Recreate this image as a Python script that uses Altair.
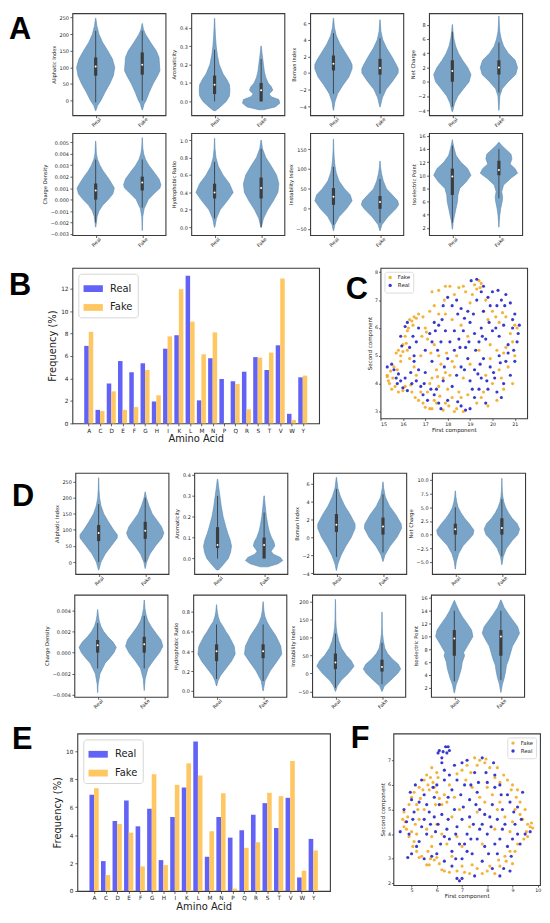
import altair as alt
import pandas as pd

TXT = "#222222"
FRAME = "#3a3a3a"
VFILL = "#7aa5c9"
VEDGE = "#5b8ab3"
INNER = "#3c3c3c"
BLUE_BAR = "#6262f6"
ORANGE_BAR = "#ffc762"
BLUE_PT = "#2222c8"
ORANGE_PT = "#f4aa22"
FONT = "DejaVu Sans"
LFONT = "Liberation Sans"

# ---------------- violin profiles: (value, half-width in category units) ----------------
# box stats: [whisker low, Q1, median, Q3, whisker high]
A1_real = [(-30,0.005),(-15,0.04),(0,0.11),(25,0.2),(50,0.3),(75,0.38),(100,0.41),(125,0.36),(150,0.26),(175,0.15),(200,0.07),(225,0.025),(248,0.003)]
A1_fake = [(-28,0.005),(-10,0.04),(0,0.08),(25,0.15),(50,0.23),(75,0.33),(90,0.38),(110,0.37),(130,0.36),(150,0.3),(175,0.18),(200,0.07),(215,0.025),(232,0.003)]
A1_real_box = [-5, 75, 103, 130, 210]
A1_fake_box = [0, 78, 108, 145, 210]

A2_real = [(-0.05,0.02),(-0.03,0.12),(0.0,0.25),(0.03,0.32),(0.06,0.33),(0.09,0.32),(0.12,0.26),(0.15,0.18),(0.2,0.1),(0.25,0.06),(0.3,0.035),(0.35,0.02),(0.4,0.01),(0.45,0.003)]
A2_fake = [(-0.045,0.05),(-0.03,0.3),(-0.01,0.4),(0.01,0.38),(0.025,0.22),(0.04,0.17),(0.06,0.25),(0.08,0.22),(0.1,0.15),(0.13,0.1),(0.16,0.07),(0.2,0.05),(0.23,0.035),(0.26,0.02),(0.3,0.004)]
A2_real_box = [0.0, 0.04, 0.09, 0.14, 0.28]
A2_fake_box = [0.0, 0.0, 0.06, 0.1, 0.23]

A3_real = [(-4.5,0.004),(-3.5,0.03),(-2.5,0.09),(-1.5,0.2),(-0.5,0.33),(0.5,0.4),(1.0,0.4),(1.5,0.36),(2.5,0.25),(3.5,0.14),(4.5,0.06),(5.5,0.02),(6.6,0.003)]
A3_fake = [(-4.1,0.004),(-3,0.05),(-2,0.13),(-1,0.27),(0,0.39),(0.5,0.39),(1,0.35),(2,0.25),(3,0.14),(4,0.06),(5,0.02),(6.4,0.003)]
A3_real_box = [-2.5, 0.3, 1.1, 2.1, 4.8]
A3_fake_box = [-2.5, -0.2, 0.6, 1.7, 4.2]

A4_real = [(-4.2,0.004),(-3,0.05),(-2,0.12),(-1,0.24),(0,0.36),(1,0.4),(2,0.33),(3,0.22),(4,0.13),(5,0.07),(6,0.035),(7,0.015),(8,0.003)]
A4_fake = [(-4,0.003),(-2,0.02),(-1,0.07),(0,0.2),(1,0.36),(2,0.4),(3,0.35),(4,0.2),(5,0.1),(6,0.05),(7,0.02),(8,0.01),(9.2,0.002)]
A4_real_box = [-3.5, 0.0, 1.5, 3.0, 7.0]
A4_fake_box = [-1.5, 1.0, 2.0, 3.0, 5.5]

A5_real = [(-0.0024,0.003),(-0.0015,0.03),(-0.001,0.07),(-0.0005,0.15),(0.0,0.27),(0.0005,0.37),(0.001,0.4),(0.0015,0.33),(0.002,0.25),(0.0025,0.16),(0.003,0.09),(0.0035,0.04),(0.004,0.015),(0.0051,0.003)]
A5_fake = [(-0.0027,0.002),(-0.0015,0.01),(-0.0008,0.04),(0.0,0.13),(0.0005,0.25),(0.001,0.38),(0.0013,0.4),(0.0018,0.36),(0.0023,0.27),(0.003,0.14),(0.0035,0.07),(0.004,0.03),(0.0045,0.012),(0.0054,0.002)]
A5_real_box = [-0.002, 0.0, 0.0008, 0.0014, 0.0035]
A5_fake_box = [-0.0007, 0.0008, 0.0015, 0.002, 0.0035]

A6_real = [(0.0,0.005),(0.1,0.04),(0.2,0.12),(0.3,0.27),(0.4,0.4),(0.5,0.32),(0.6,0.18),(0.7,0.08),(0.8,0.03),(0.9,0.01),(1.02,0.002)]
A6_fake = [(0.0,0.005),(0.1,0.05),(0.2,0.14),(0.3,0.26),(0.4,0.36),(0.5,0.38),(0.6,0.33),(0.7,0.22),(0.8,0.1),(0.9,0.03),(1.0,0.003)]
A6_real_box = [0.1, 0.33, 0.4, 0.5, 0.75]
A6_fake_box = [0.0, 0.33, 0.45, 0.57, 0.9]

A7_real = [(-55,0.003),(-40,0.03),(-20,0.12),(0,0.28),(20,0.4),(35,0.36),(50,0.24),(70,0.12),(90,0.06),(110,0.03),(130,0.015),(150,0.007),(175,0.002)]
A7_fake = [(-55,0.003),(-40,0.04),(-20,0.17),(0,0.34),(10,0.4),(20,0.38),(35,0.26),(50,0.14),(70,0.07),(90,0.03),(105,0.012),(120,0.002)]
A7_real_box = [-40, 10, 30, 52, 105]
A7_fake_box = [-35, 0, 17, 32, 75]

A8_real = [(1.8,0.003),(3,0.02),(4,0.05),(5,0.08),(6,0.11),(7,0.12),(8,0.16),(9,0.3),(10,0.4),(11,0.33),(12,0.18),(13,0.08),(14,0.04),(15,0.01),(15.4,0.002)]
A8_fake = [(2.1,0.002),(3,0.01),(4,0.02),(5,0.04),(6,0.07),(6.7,0.08),(7.5,0.06),(8.5,0.1),(9.5,0.25),(10.3,0.4),(11,0.35),(11.7,0.24),(12.5,0.28),(13.2,0.26),(14,0.14),(14.5,0.06),(15,0.005)]
A8_real_box = [2.8, 7.0, 9.8, 11.0, 14.5]
A8_fake_box = [6.5, 10.0, 10.8, 12.2, 14.0]

D1_real = [(-25,0.003),(0,0.05),(25,0.14),(50,0.27),(75,0.4),(85,0.4),(100,0.32),(125,0.21),(150,0.11),(175,0.05),(200,0.02),(225,0.008),(262,0.002)]
D1_fake = [(-20,0.003),(0,0.03),(25,0.1),(50,0.22),(75,0.36),(90,0.4),(110,0.35),(130,0.25),(150,0.15),(175,0.08),(200,0.025),(218,0.003)]
D1_real_box = [0, 65, 90, 115, 180]
D1_fake_box = [0, 72, 97, 125, 200]

D2_real = [(-0.055,0.02),(-0.03,0.12),(0.0,0.23),(0.03,0.28),(0.06,0.3),(0.09,0.27),(0.12,0.22),(0.15,0.18),(0.2,0.12),(0.25,0.08),(0.3,0.05),(0.35,0.02),(0.38,0.004)]
D2_fake = [(-0.04,0.08),(-0.025,0.3),(-0.01,0.4),(0.005,0.35),(0.02,0.2),(0.035,0.15),(0.06,0.23),(0.08,0.21),(0.1,0.16),(0.13,0.11),(0.16,0.08),(0.2,0.05),(0.25,0.025),(0.3,0.004)]
D2_real_box = [0.0, 0.05, 0.065, 0.15, 0.3]
D2_fake_box = [0.0, 0.0, 0.065, 0.1, 0.22]

D3_real = [(-3.7,0.003),(-3,0.03),(-2,0.1),(-1,0.2),(0,0.32),(1,0.4),(1.5,0.4),(2.5,0.3),(3.5,0.18),(4.5,0.09),(5.5,0.03),(6.7,0.003)]
D3_fake = [(-2.7,0.003),(-2,0.04),(-1,0.15),(0,0.3),(1,0.4),(1.5,0.39),(2.5,0.28),(3.5,0.14),(4.5,0.05),(5.5,0.015),(6.2,0.002)]
D3_real_box = [-2.2, 0.6, 1.4, 2.6, 5.4]
D3_fake_box = [-1.7, 0.3, 1.2, 2.2, 4.8]

D4_real = [(-6.3,0.003),(-5,0.02),(-3.5,0.07),(-2,0.17),(-1,0.28),(0,0.38),(0.8,0.4),(2,0.3),(3,0.2),(4,0.12),(5,0.06),(6,0.03),(7,0.012),(8,0.003)]
D4_fake = [(-5.5,0.003),(-4,0.03),(-2.5,0.1),(-1,0.23),(0,0.34),(1,0.38),(2,0.33),(3,0.22),(4,0.14),(5,0.08),(6,0.04),(7,0.02),(8,0.01),(9,0.005),(10.3,0.002)]
D4_real_box = [-3.0, 0.0, 1.0, 2.0, 5.0]
D4_fake_box = [-4.0, 0.0, 1.2, 3.0, 6.5]

D5_real = [(-0.0038,0.002),(-0.003,0.01),(-0.002,0.05),(-0.001,0.16),(-0.0005,0.26),(0.0,0.35),(0.0005,0.4),(0.001,0.33),(0.0015,0.22),(0.002,0.13),(0.0025,0.07),(0.003,0.035),(0.0035,0.015),(0.0041,0.002)]
D5_fake = [(-0.0036,0.002),(-0.0025,0.02),(-0.0015,0.08),(-0.0008,0.19),(0.0,0.33),(0.0006,0.4),(0.0012,0.36),(0.0018,0.26),(0.0024,0.16),(0.003,0.08),(0.0036,0.04),(0.0042,0.015),(0.005,0.002)]
D5_real_box = [-0.0015, 0.0, 0.0007, 0.0012, 0.0028]
D5_fake_box = [-0.0015, 0.0, 0.0008, 0.0015, 0.0035]

D6_real = [(0.05,0.003),(0.1,0.03),(0.15,0.08),(0.2,0.16),(0.3,0.32),(0.37,0.4),(0.45,0.38),(0.55,0.27),(0.6,0.2),(0.65,0.14),(0.7,0.07),(0.75,0.035),(0.8,0.015),(0.87,0.002)]
D6_fake = [(0.0,0.003),(0.1,0.04),(0.2,0.15),(0.3,0.3),(0.37,0.4),(0.45,0.38),(0.55,0.28),(0.65,0.14),(0.7,0.08),(0.75,0.04),(0.8,0.02),(0.9,0.002)]
D6_real_box = [0.12, 0.3, 0.4, 0.47, 0.67]
D6_fake_box = [0.1, 0.33, 0.4, 0.47, 0.67]

D7_real = [(-50,0.003),(-35,0.04),(-20,0.12),(0,0.28),(20,0.4),(35,0.34),(50,0.23),(70,0.13),(90,0.07),(110,0.035),(130,0.015),(150,0.008),(205,0.002)]
D7_fake = [(-50,0.003),(-35,0.05),(-20,0.18),(0,0.34),(12,0.4),(25,0.35),(40,0.22),(55,0.12),(70,0.06),(90,0.03),(110,0.012),(130,0.006),(170,0.002)]
D7_real_box = [-40, 12, 30, 55, 110]
D7_fake_box = [-30, 5, 18, 38, 85]

D8_real = [(1.2,0.003),(2.5,0.04),(3.5,0.09),(5,0.15),(6,0.17),(7,0.22),(7.5,0.2),(8.5,0.28),(10,0.4),(11,0.37),(12,0.28),(13,0.18),(14,0.1),(15,0.04),(15.6,0.003)]
D8_fake = [(1.3,0.003),(2.5,0.03),(3.5,0.07),(4.5,0.1),(5.5,0.12),(6.5,0.17),(7.5,0.21),(8.5,0.25),(9.5,0.33),(10.5,0.4),(11.5,0.36),(12.5,0.26),(13.5,0.16),(14.5,0.07),(15.7,0.003)]
D8_real_box = [3.0, 7.0, 9.7, 11.0, 14.0]
D8_fake_box = [3.2, 7.0, 10.0, 11.0, 14.0]

# ---------------- amino acid frequencies ----------------
AMINO = ["A","C","D","E","F","G","H","I","K","L","M","N","P","Q","R","S","T","V","W","Y"]
B_real = [6.9,1.2,3.55,5.55,4.55,5.35,1.95,6.65,7.85,13.15,2.05,5.8,3.95,3.75,4.6,5.9,4.75,6.95,0.85,4.1]
B_fake = [8.15,1.1,2.85,1.2,1.45,4.75,2.5,7.75,11.95,9.05,6.15,8.1,0.0,3.5,1.25,5.85,6.3,12.9,0.3,4.25]
E_real = [6.89,2.14,5.01,6.48,4.63,5.89,2.21,5.3,7.41,10.71,2.45,5.3,3.82,4.35,5.46,6.29,4.51,6.67,0.97,3.73]
E_fake = [7.36,1.14,4.8,4.18,1.76,8.36,1.85,7.6,9.14,8.27,4.28,7.0,0.17,3.09,3.49,7.03,6.79,9.31,1.45,2.9]

# ---------------- 2-D embeddings (read approximately) ----------------
C_fake = [(15.3,4.3),(15.35,4.1),(15.4,4.0),(15.3,4.25),(15.5,3.8),(15.45,4.45),(15.6,4.6),(15.7,5.1),(15.8,5.2),(15.9,4.8),(16.0,5.4),(16.1,5.7),(16.2,5.9),(16.3,6.3),(16.4,6.25),(16.5,6.4),(16.45,6.1),(16.2,5.2),(16.3,4.9),(16.5,4.6),(16.6,4.3),(16.1,3.9),(16.0,3.75),(15.8,3.7),(16.4,3.7),(16.7,3.4),(16.9,3.3),(17.0,3.15),(17.2,3.1),(17.3,3.1),(17.5,3.3),(17.8,3.05),(18.3,3.0),(18.4,3.1),(18.2,3.5),(18.0,3.8),(17.6,3.9),(17.3,4.2),(17.5,4.5),(17.7,4.7),(17.9,4.4),(18.1,4.3),(18.3,4.6),(17.6,5.0),(17.4,5.4),(17.1,5.6),(17.0,6.0),(16.9,6.4),(16.7,6.5),(17.2,6.6),(17.4,6.8),(17.3,7.3),(17.6,7.35),(17.9,7.5),(18.1,7.5),(18.5,7.45),(18.8,7.3),(19.1,7.2),(19.4,7.7),(19.5,7.6),(19.3,7.4),(19.0,6.9),(19.6,6.6),(19.8,6.3),(20.0,6.6),(20.3,6.2),(20.6,6.4),(21.0,6.1),(21.1,6.0),(20.9,5.5),(20.5,5.1),(20.7,4.6),(20.9,4.0),(20.5,3.8),(20.2,3.4),(19.8,3.2),(19.5,3.5),(19.7,4.3),(19.9,4.9),(19.4,5.2),(19.0,4.7),(18.7,4.2),(18.5,3.7),(18.9,5.7),(18.6,6.1),(18.2,6.3),(17.9,6.5),(20.3,4.5),(21.0,5.0),(16.8,5.0),
          (15.55,4.2),(15.65,3.9),(15.75,4.5),(15.9,5.0),(16.0,5.15),(16.15,5.45),(16.25,6.0),(16.6,6.35),(16.35,3.95),(16.55,3.5),(16.8,3.7),(17.1,3.7),(17.2,4.0),(17.4,3.4),(17.65,3.55),(17.9,3.3),(18.05,3.2),(18.6,3.5),(18.7,3.0),(17.8,4.2),(17.55,4.25),(18.2,4.8),(18.4,5.0),(17.95,5.1),(17.25,5.1),(17.05,5.85),(16.85,5.7),(17.6,6.5),(17.85,7.0),(18.3,7.2),(18.7,7.5),(19.2,7.55),(19.45,7.45),(19.7,7.0),(20.15,6.4),(20.45,6.55),(20.8,5.8),(20.6,5.3),(20.2,5.2),(20.0,4.0),(19.6,3.7),(19.3,3.3),(18.9,3.6),(19.9,5.4),(20.4,4.2)]
C_real = [(15.3,4.6),(15.6,4.5),(15.7,4.2),(15.8,4.35),(15.9,4.1),(16.0,3.85),(16.2,3.75),(16.35,4.4),(16.4,4.0),(16.6,4.1),(16.8,3.9),(16.9,3.6),(17.1,3.4),(17.4,3.6),(17.7,3.1),(18.6,3.2),(18.8,3.05),(19.0,3.1),(19.2,3.5),(19.4,3.8),(19.7,3.3),(20.2,3.7),(20.5,4.0),(20.8,4.3),(21.0,4.8),(21.1,5.5),(21.2,6.1),(21.0,6.5),(20.8,6.9),(20.6,7.2),(20.4,7.0),(20.2,6.8),(20.0,7.3),(19.8,7.1),(19.5,7.3),(19.3,7.0),(19.05,7.7),(19.3,7.75),(18.9,6.6),(18.6,6.7),(18.4,7.0),(18.0,7.1),(17.6,6.1),(17.4,6.2),(17.2,5.8),(16.6,5.5),(16.5,5.0),(16.3,5.3),(15.9,5.7),(16.2,6.2),(17.0,5.2),(17.3,4.8),(17.7,5.5),(17.9,5.9),(18.1,5.5),(18.3,5.2),(18.5,5.6),(18.7,5.9),(19.0,6.2),(19.2,5.8),(19.5,6.0),(19.7,5.6),(20.0,5.9),(20.3,5.7),(20.5,6.1),(20.7,5.4),(20.3,5.0),(19.9,4.6),(19.6,4.9),(19.2,4.5),(18.9,4.9),(18.6,4.6),(18.4,4.3),(18.0,4.9),(17.8,4.1),(17.5,3.8),(18.2,3.9),(19.0,4.1),(19.5,4.2),(20.1,4.2),(20.4,3.5),(19.8,3.8),(20.6,4.8),(17.0,4.4),(16.7,6.0),(17.8,6.8),(19.6,6.6),(20.9,6.0),(18.8,5.3),(19.4,5.5),
          (15.5,4.7),(15.75,4.0),(16.1,4.2),(16.5,4.8),(16.7,4.5),(16.95,4.0),(17.25,3.8),(17.6,3.3),(18.0,3.4),(18.45,3.35),(19.1,3.8),(19.35,4.35),(19.75,4.1),(20.05,4.4),(20.35,4.75),(20.7,5.1),(20.95,5.2),(21.15,5.8),(20.9,6.3),(20.55,6.8),(20.25,7.35),(19.9,6.8),(19.6,7.5),(19.15,6.5),(18.75,6.35),(18.45,6.5),(18.2,6.8),(17.75,6.3),(17.45,5.9),(17.3,5.5),(17.55,5.2),(17.85,4.6),(18.3,5.9),(18.55,5.3),(18.95,5.5),(19.25,5.2),(19.55,5.7),(19.85,6.2),(20.15,6.0),(19.45,4.7),(18.75,4.5),(16.45,5.7),(16.1,6.05),(15.95,5.35)]
F_fake = [(4.7,4.9),(4.75,4.5),(4.8,4.2),(4.9,3.9),(5.0,4.1),(5.1,3.7),(5.2,3.3),(5.3,3.05),(5.4,3.1),(5.6,2.75),(5.7,2.75),(5.9,2.95),(6.1,2.8),(6.3,2.5),(6.5,2.45),(5.0,5.5),(5.1,5.7),(5.2,5.2),(5.3,5.9),(5.5,6.2),(5.6,6.4),(5.8,6.7),(6.0,6.5),(5.7,5.8),(5.9,5.9),(6.0,5.7),(5.5,5.0),(5.3,4.6),(5.6,4.2),(5.8,3.9),(6.0,4.4),(6.2,5.2),(6.4,5.3),(6.7,5.5),(6.9,5.0),(7.0,6.6),(7.2,6.8),(7.5,7.1),(7.7,7.0),(7.9,6.9),(8.1,6.7),(8.3,6.3),(8.5,6.1),(8.8,6.2),(9.0,6.0),(9.2,5.8),(9.3,5.3),(9.1,5.0),(9.3,4.8),(9.4,4.6),(9.6,4.4),(9.7,4.3),(9.8,4.25),(9.6,3.9),(9.2,3.6),(8.9,3.3),(8.7,3.1),(8.5,2.7),(8.3,2.4),(8.0,2.5),(7.6,2.6),(7.3,2.4),(7.0,2.7),(6.6,3.1),(6.8,3.9),(7.3,4.3),(7.6,4.9),(7.9,5.3),(8.2,5.6),(8.5,5.3),(8.7,4.7),(8.3,4.2),(7.8,3.6),(7.0,3.5),(6.4,3.6),(5.2,4.0),(4.9,5.2),(6.5,6.0),(7.4,5.9),(8.9,4.1),(9.0,2.8),(6.2,4.0),(5.8,3.5),
          (4.65,4.6),(4.7,4.3),(4.85,4.7),(5.05,3.5),(5.15,4.4),(5.25,5.0),(5.35,5.45),(5.45,5.8),(5.65,6.0),(5.75,6.3),(5.85,6.1),(6.05,6.3),(6.3,5.6),(6.1,5.45),(5.95,5.2),(5.65,3.3),(5.75,3.0),(6.0,3.05),(6.2,2.55),(6.8,2.5),(7.1,2.45),(7.4,2.75),(7.8,2.4),(8.1,2.7),(8.45,2.95),(8.75,2.9),(9.1,3.3),(9.45,3.8),(9.55,4.1),(9.75,4.45),(9.5,5.0),(9.15,5.5),(8.95,5.8),(8.65,6.4),(8.4,6.7),(7.95,7.05),(7.6,6.8),(7.35,6.5),(7.15,6.2),(6.8,6.45),(8.0,5.9),(7.7,5.5),(8.4,5.0),(9.0,4.5),(6.6,4.7)]
F_real = [(4.55,4.1),(4.8,4.5),(4.85,3.05),(5.0,3.2),(5.0,5.4),(4.95,5.7),(5.1,4.9),(5.2,3.5),(5.4,4.3),(5.4,6.2),(5.5,5.6),(5.6,4.0),(5.7,4.9),(5.8,3.1),(5.9,4.7),(6.0,3.2),(6.05,7.3),(6.1,7.4),(6.25,7.35),(6.35,7.55),(6.4,7.3),(6.5,7.4),(6.2,6.9),(6.3,6.2),(6.5,6.4),(6.6,5.8),(6.7,5.0),(6.1,5.2),(6.2,4.8),(6.4,4.2),(6.5,3.8),(6.6,3.3),(6.6,2.7),(6.8,2.2),(6.9,2.1),(7.0,3.0),(7.1,3.6),(7.2,4.0),(7.0,4.6),(7.3,5.4),(7.1,6.0),(7.0,6.9),(7.5,6.5),(7.6,5.7),(7.7,5.0),(7.8,4.4),(7.6,3.8),(7.4,3.2),(7.5,2.3),(7.8,2.9),(7.9,3.5),(8.0,4.0),(8.1,4.7),(8.2,5.2),(8.3,5.9),(8.0,6.1),(8.25,6.9),(8.5,6.0),(8.6,5.0),(8.7,4.4),(8.5,3.8),(8.4,3.2),(8.2,2.6),(8.5,2.3),(8.9,2.5),(8.8,3.5),(9.0,3.8),(9.1,4.4),(9.2,5.1),(9.4,5.7),(9.5,4.0),(9.7,4.1),(9.3,3.6),(8.8,5.6),(7.3,4.7),(6.8,4.3),(5.9,5.5),(6.0,6.0),(6.8,6.2),(7.2,7.0),(7.8,7.1),(5.3,3.7),(5.5,3.0),(6.3,2.9),(7.7,4.2),(8.4,4.6),
          (4.7,5.0),(4.9,4.0),(5.05,4.6),(5.15,6.0),(5.3,5.3),(5.6,5.2),(5.75,4.4),(5.95,4.1),(6.15,3.6),(6.3,3.9),(6.45,4.6),(6.75,4.0),(6.9,3.6),(6.75,3.0),(7.0,2.2),(7.2,3.3),(7.35,3.8),(7.45,4.4),(7.55,5.2),(7.9,4.8),(8.05,3.2),(8.3,3.6),(8.6,4.2),(8.65,2.6),(8.95,3.1),(9.2,4.0),(9.35,4.6),(9.05,4.9),(8.9,5.3),(8.55,5.6),(8.3,6.4),(7.95,6.5),(7.65,6.1),(7.35,6.0),(6.95,5.6),(6.45,5.5),(6.3,6.6),(6.7,6.8),(6.2,7.1),(6.45,7.55),(5.85,5.9),(5.5,4.6),(6.05,4.4),(7.05,5.1),(8.15,4.3)]


def letter(ch, dx, dy):
    return alt.Chart(pd.DataFrame({"t": [ch]})).mark_text(
        align="left", baseline="alphabetic", font=LFONT, fontSize=31,
        fontWeight="bold", color="black").encode(
        x=alt.value(dx), y=alt.value(dy), text="t:N")


def frame():
    return alt.ViewBackground(stroke=FRAME, strokeWidth=1.1)


def filler(w, h):
    return alt.Chart(pd.DataFrame({"z": [0]})).mark_point(opacity=0, size=1).encode(
        x=alt.value(w / 2), y=alt.value(h / 2)).properties(
        width=w, height=h, view=alt.ViewBackground(stroke="transparent"))


def violin(title, ticks, dom, fmt, real, fake, rbox, fbox, h, lab=None):
    prof = pd.DataFrame([{"g": 0, "v": v, "w": w} for v, w in real] +
                        [{"g": 1, "v": v, "w": w} for v, w in fake])
    keys = ["wlo", "q1", "med", "q3", "whi"]
    stats = pd.DataFrame([dict(g=0, **dict(zip(keys, rbox))),
                          dict(g=1, **dict(zip(keys, fbox)))])
    xs = alt.Scale(domain=[-0.5, 1.5], nice=False, zero=False)
    ys = alt.Scale(domain=dom, nice=False, zero=False)
    xax = alt.Axis(values=[0, 1], labelExpr="datum.value == 0 ? 'Real' : 'Fake'",
                   title=None, grid=False, domain=False, labelAngle=-45,
                   labelAlign="center", labelBaseline="middle", labelPadding=4,
                   tickSize=2.5, labelFontSize=5)
    yax = alt.Axis(values=ticks, format=fmt, title=title, grid=False, domain=False,
                   tickSize=2.5, labelPadding=1.5, labelFontSize=5,
                   titleFontSize=5.2, titlePadding=2.5)
    area = alt.Chart(prof).transform_calculate(
        lo="datum.g - datum.w", hi="datum.g + datum.w").mark_area(
        orient="horizontal", fill=VFILL, stroke=VEDGE, strokeWidth=0.6,
        opacity=1).encode(
        y=alt.Y("v:Q", scale=ys, axis=yax),
        x=alt.X("lo:Q", scale=xs, axis=xax),
        x2="hi:Q", detail="g:N")
    base = alt.Chart(stats)
    xg = alt.X("g:Q", scale=xs, axis=xax)
    wh = base.mark_rule(color=INNER, strokeWidth=0.9).encode(
        x=xg, y=alt.Y("wlo:Q", scale=ys, axis=yax), y2="whi:Q")
    bx = base.mark_rule(color=INNER, strokeWidth=3.2).encode(
        x=xg, y=alt.Y("q1:Q", scale=ys, axis=yax), y2="q3:Q")
    md = base.mark_point(filled=True, color="white", size=4, opacity=1).encode(
        x=xg, y=alt.Y("med:Q", scale=ys, axis=yax))
    layers = [area, wh, bx, md]
    if lab:
        layers.append(letter(*lab))
    return alt.layer(*layers).properties(width=94, height=h, view=frame())


def bars(real, fake, ymax, yticks, w, h, lab):
    df = pd.DataFrame([{"i": i, "grp": "Real", "val": v} for i, v in enumerate(real)] +
                      [{"i": i, "grp": "Fake", "val": v} for i, v in enumerate(fake)])
    arr = "[" + ",".join("'%s'" % a for a in AMINO) + "]"
    b = alt.Chart(df).transform_calculate(
        x0="datum.i + (datum.grp == 'Real' ? -0.4 : 0)",
        x1="datum.i + (datum.grp == 'Real' ? 0 : 0.4)").mark_rect().encode(
        x=alt.X("x0:Q", scale=alt.Scale(domain=[-1.45, 20.45], nice=False, zero=False),
                axis=alt.Axis(values=list(range(20)), labelExpr=arr + "[datum.value]",
                              title="Amino Acid", grid=False, domain=False,
                              tickSize=2.5, labelPadding=1.5, labelFontSize=5.8,
                              titleFontSize=10, titlePadding=1)),
        x2="x1:Q",
        y=alt.Y("val:Q", scale=alt.Scale(domain=[0, ymax], nice=False),
                axis=alt.Axis(values=yticks, title="Frequency (%)", grid=False,
                              domain=False, tickSize=2.5, labelPadding=2,
                              labelFontSize=5.8, titleFontSize=10, titlePadding=3)),
        y2=alt.datum(0),
        color=alt.Color("grp:N", scale=alt.Scale(domain=["Real", "Fake"],
                                                 range=[BLUE_BAR, ORANGE_BAR]),
                        legend=alt.Legend(title=None, orient="top-left", offset=6,
                                          symbolType="M-1,-0.35L1,-0.35L1,0.35L-1,0.35Z",
                                          symbolSize=380, symbolStrokeWidth=0,
                                          symbolOpacity=1, labelFontSize=10,
                                          labelFont=FONT, labelColor=TXT,
                                          labelOffset=7, rowPadding=4, padding=5,
                                          strokeColor="#d6d6d6", fillColor="white",
                                          cornerRadius=3)))
    return alt.layer(b, letter(*lab)).properties(width=w, height=h, view=frame())


def scatter(fake, real, xdom, ydom, xticks, yticks, w, h, orient, lab):
    df = pd.DataFrame([{"x": x, "y": y, "cls": "Fake"} for x, y in fake] +
                      [{"x": x, "y": y, "cls": "Real"} for x, y in real])
    s = alt.Chart(df).mark_circle(size=10, opacity=0.9).encode(
        x=alt.X("x:Q", scale=alt.Scale(domain=xdom, nice=False, zero=False),
                axis=alt.Axis(values=xticks, title="First component", grid=False,
                              domain=False, tickSize=2, labelPadding=1,
                              labelFontSize=4.8, titleFontSize=5.6, titlePadding=1)),
        y=alt.Y("y:Q", scale=alt.Scale(domain=ydom, nice=False, zero=False),
                axis=alt.Axis(values=yticks, title="Second component", grid=False,
                              domain=False, tickSize=2, labelPadding=1,
                              labelFontSize=4.8, titleFontSize=5.6, titlePadding=2)),
        color=alt.Color("cls:N", scale=alt.Scale(domain=["Fake", "Real"],
                                                 range=[ORANGE_PT, BLUE_PT]),
                        legend=alt.Legend(title=None, orient=orient, offset=4,
                                          symbolType="circle", symbolSize=12,
                                          symbolStrokeWidth=0, labelFontSize=5.5,
                                          labelFont=FONT, labelColor=TXT,
                                          labelOffset=5, rowPadding=1, padding=3,
                                          strokeColor="#dddddd", fillColor="white",
                                          cornerRadius=2)))
    return alt.layer(s, letter(*lab)).properties(width=w, height=h, view=frame())


def vrow(specs, h, lab, pre):
    cells = []
    if pre:
        cells.append(filler(pre, 1))
    for k, sp in enumerate(specs):
        if k:
            cells.append(filler(26, 1))
        cells.append(violin(*sp, h, lab if k == 0 else None))
    return alt.hconcat(*cells, spacing=0, bounds="flush")


rowA1 = vrow([
    ("Aliphatic Index", [0, 50, 100, 150, 200, 250], [-44, 263], "d", A1_real, A1_fake, A1_real_box, A1_fake_box),
    ("Aromaticity", [0, 0.1, 0.2, 0.3, 0.4], [-0.075, 0.478], ".1f", A2_real, A2_fake, A2_real_box, A2_fake_box),
    ("Boman Index", [-4, -2, 0, 2, 4, 6], [-5.1, 7.2], "d", A3_real, A3_fake, A3_real_box, A3_fake_box),
    ("Net Charge", [-4, -2, 0, 2, 4, 6, 8], [-4.7, 9.6], "d", A4_real, A4_fake, A4_real_box, A4_fake_box),
], 103, ("A", -64, 26), 0)
rowA2 = vrow([
    ("Charge Density", [-0.003, -0.002, -0.001, 0, 0.001, 0.002, 0.003, 0.004, 0.005], [-0.0031, 0.0058], ".3f", A5_real, A5_fake, A5_real_box, A5_fake_box),
    ("Hydrophobic Ratio", [0, 0.2, 0.4, 0.6, 0.8, 1.0], [-0.09, 1.08], ".1f", A6_real, A6_fake, A6_real_box, A6_fake_box),
    ("Instability Index", [-50, 0, 50, 100, 150], [-66, 190], "d", A7_real, A7_fake, A7_real_box, A7_fake_box),
    ("Isoelectric Point", [2, 4, 6, 8, 10, 12, 14, 16], [0.9, 16.4], "d", A8_real, A8_fake, A8_real_box, A8_fake_box),
], 103, None, 0)
rowD1 = vrow([
    ("Aliphatic Index", [0, 50, 100, 150, 200, 250], [-37, 277], "d", D1_real, D1_fake, D1_real_box, D1_fake_box),
    ("Aromaticity", [0, 0.1, 0.2, 0.3, 0.4], [-0.074, 0.41], ".1f", D2_real, D2_fake, D2_real_box, D2_fake_box),
    ("Boman Index", [-4, -2, 0, 2, 4, 6], [-4.1, 7.2], "d", D3_real, D3_fake, D3_real_box, D3_fake_box),
    ("Net Charge", [-5, -2.5, 0, 2.5, 5, 7.5, 10], [-7.2, 11.3], ".1f", D4_real, D4_fake, D4_real_box, D4_fake_box),
], 102, ("D", -64, 33), 3)
rowD2 = vrow([
    ("Charge Density", [-0.004, -0.002, 0, 0.002, 0.004], [-0.0042, 0.0055], ".3f", D5_real, D5_fake, D5_real_box, D5_fake_box),
    ("Hydrophobic Ratio", [0, 0.2, 0.4, 0.6, 0.8], [-0.06, 0.97], ".1f", D6_real, D6_fake, D6_real_box, D6_fake_box),
    ("Instability Index", [-50, 0, 50, 100, 150, 200], [-65, 218], "d", D7_real, D7_fake, D7_real_box, D7_fake_box),
    ("Isoelectric Point", [2, 4, 6, 8, 10, 12, 14, 16], [0.6, 16.5], "d", D8_real, D8_fake, D8_real_box, D8_fake_box),
], 103, None, 2)

rowBC = alt.hconcat(
    bars(B_real, B_fake, 13.85, [0, 2, 4, 6, 8, 10, 12], 249, 157, ("B", -64, 27)),
    filler(62, 1),
    scatter(C_fake, C_real, [15, 21.55], [2.75, 8.16], [15, 16, 17, 18, 19, 20, 21],
            [3, 4, 5, 6, 7, 8], 148, 152, "top-left", ("C", -35, 31)),
    spacing=0, bounds="flush").resolve_scale(color="independent")
rowEF = alt.hconcat(
    filler(5, 1),
    bars(E_real, E_fake, 11.28, [0, 2, 4, 6, 8, 10], 255, 159, ("E", -66, 16)),
    filler(64, 1),
    scatter(F_fake, F_real, [4.28, 10.09], [1.93, 8.09], [5, 6, 7, 8, 9, 10],
            [2, 3, 4, 5, 6, 7], 148, 153, "top-right", ("F", -43, 15)),
    spacing=0, bounds="flush").resolve_scale(color="independent")

chart = alt.vconcat(
    rowA1, filler(1, 1), rowA2, filler(1, 16), rowBC, filler(1, 25), rowD1,
    filler(1, 4), rowD2, filler(1, 10), rowEF,
    spacing=0,
).resolve_scale(color="independent").properties(padding=0).configure_view(
    stroke="transparent").configure_axis(
    grid=False, domain=False, labelColor=TXT, titleColor=TXT, tickColor=FRAME,
    labelFont=FONT, titleFont=FONT, titleFontWeight="normal", tickWidth=0.8)

chart.save("out.html", embed_options={"renderer": "svg", "actions": False})
